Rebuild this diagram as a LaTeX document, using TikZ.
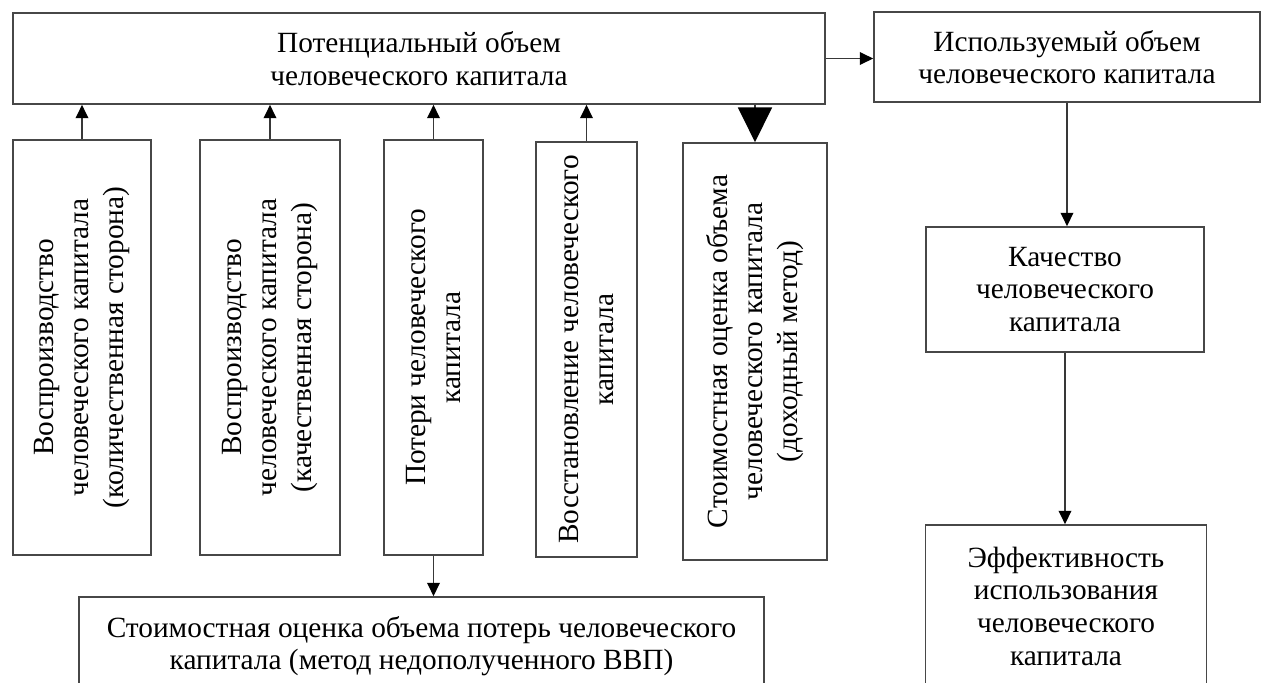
\documentclass[tikz,border=0pt]{standalone}
\usepackage{fontspec}
\setmainfont{Liberation Serif}
\usetikzlibrary{arrows.meta}
\begin{document}
\begin{tikzpicture}[x=0.75pt,y=-0.75pt,
  dims/.style 2 args={minimum width={#1*0.75pt}, minimum height={#2*0.75pt}},
  box/.style={draw=black!72, line width=1.3pt, rectangle, inner sep=0pt,
    align=center, font=\fontsize{22pt}{24.5pt}\selectfont},
  vbox/.style={box, rotate=90, font=\fontsize{22pt}{26pt}\selectfont},
  conn/.style={draw=black!78, line width=1.1pt,
    -{Triangle[length=10pt,width=9.5pt,color=black]}},
  bigconn/.style={draw=black!78, line width=1.1pt,
    -{Triangle[length=26pt,width=25.5pt,color=black]}}]
\useasboundingbox (0,0) rectangle (1263,682);
\clip (0,0) rectangle (1263,682);

% upper row
\node[box, dims={812}{91}] (pot) at (419,58.5)
  {Потенциальный объем\\человеческого капитала};
\node[box, dims={386}{90}] (used) at (1067,57)
  {Используемый объем\\человеческого капитала};

% vertical boxes under the potential volume
\node[vbox, dims={415}{138}] (b1) at (82,347.5)
  {Воспроизводство\\человеческого капитала\\(количественная сторона)};
\node[vbox, dims={415}{140}] (b2) at (270,347.5)
  {Воспроизводство\\человеческого капитала\\(качественная сторона)};
\node[vbox, dims={415}{99}] (b3) at (433.5,347.5)
  {Потери человеческого\\капитала};
\node[vbox, dims={415}{101}] (b4) at (586.5,349.5)
  {Восстановление человеческого\\капитала};
\node[vbox, dims={417}{144}] (b5) at (755,351.5)
  {Стоимостная оценка объема\\человеческого капитала\\(доходный метод)};

% lower boxes
\node[box, dims={685}{98}] (loss) at (421.5,646)
  {Стоимостная оценка объема потерь человеческого\\капитала (метод недополученного ВВП)};
\node[box, dims={278}{125}] (qual) at (1065,289.5)
  {Качество\\человеческого\\капитала};
\node[box, dims={281}{162}] (eff) at (1066,606)
  {Эффективность\\использования\\человеческого\\капитала};

% connectors
\draw[conn] (b1.east) -- (b1.east |- pot.south);
\draw[conn] (b2.east) -- (b2.east |- pot.south);
\draw[conn] (b3.east) -- (b3.east |- pot.south);
\draw[conn] (b4.east) -- (b4.east |- pot.south);
\draw[bigconn] (b5.east |- pot.south) -- (b5.east);
\draw[conn] (b3.west) -- (b3.west |- loss.north);
\draw[conn] (pot.east) -- (pot.east -| used.west);
\draw[conn] (used.south) -- (used.south |- qual.north);
\draw[conn] (qual.south) -- (qual.south |- eff.north);
\end{tikzpicture}
\end{document}
